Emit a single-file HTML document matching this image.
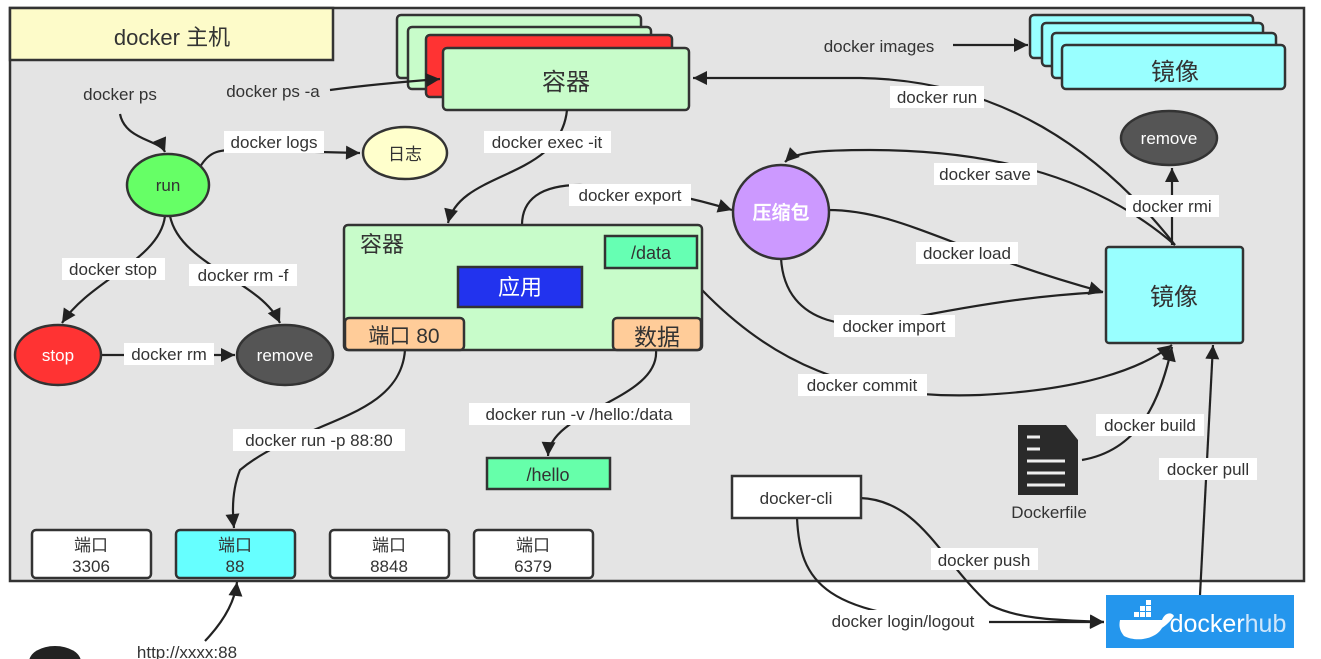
<!DOCTYPE html>
<html><head><meta charset="utf-8"><style>
html,body{margin:0;padding:0;background:#fff;}
svg{display:block;font-family:"Liberation Sans","Noto Sans CJK SC",sans-serif;}
.t{font-size:17px;fill:#333;}
.lb{fill:#fff;}
.ln{fill:none;stroke:#222;stroke-width:2.2;}
.bx{stroke:#333;stroke-width:2.5;}
</style></head><body>
<svg width="1321" height="659" viewBox="0 0 1321 659">
<defs>
<marker id="ar" viewBox="0 0 10 10" markerWidth="16" markerHeight="14" refX="10" refY="5" orient="auto" markerUnits="userSpaceOnUse"><path d="M0,0 L10,5 L0,10 Z" fill="#222"/></marker></defs>
<rect x="10" y="8" width="1294" height="573" fill="#e4e4e4" stroke="#333" stroke-width="2.5"/>
<rect x="10" y="8" width="323" height="52" fill="#fdfbc9" stroke="#333" stroke-width="2.5"/>
<text x="172" y="45" font-size="22" text-anchor="middle" fill="#333">docker 主机</text>

<rect class="bx" x="397" y="15" width="244" height="63" rx="4" fill="#c8fcca"/>
<rect class="bx" x="408" y="27" width="243" height="62" rx="4" fill="#c8fcca"/>
<rect class="bx" x="426" y="35" width="246" height="62" rx="4" fill="#ff3333"/>
<rect class="bx" x="443" y="48" width="246" height="62" rx="4" fill="#c8fcca"/>
<text x="566" y="90" font-size="24" text-anchor="middle" fill="#333">容器</text>

<rect class="bx" x="1030" y="15" width="223" height="43" rx="4" fill="#99ffff"/>
<rect class="bx" x="1042" y="23" width="221" height="43" rx="4" fill="#99ffff"/>
<rect class="bx" x="1052" y="33" width="224" height="45" rx="4" fill="#99ffff"/>
<rect class="bx" x="1062" y="45" width="223" height="44" rx="4" fill="#99ffff"/>
<text x="1175" y="80" font-size="24" text-anchor="middle" fill="#333">镜像</text>

<g class="ln">
<path d="M330,90 C360,86 400,82 440,79" marker-end="url(#ar)"/>
<path d="M953,45 L1028,45" marker-end="url(#ar)"/>
<path d="M1175,245 C1100,150 1000,80 860,78 L693,78" marker-end="url(#ar)"/>
<path d="M120,114 C125,140 160,140 165,152" marker-end="url(#ar)"/>
<path d="M200,167 C210,150 220,150 240,150 L360,153" marker-end="url(#ar)"/>
<path d="M165,216 C160,260 90,280 62,323" marker-end="url(#ar)"/>
<path d="M170,216 C180,265 260,280 280,323" marker-end="url(#ar)"/>
<path d="M100,355 L235,355" marker-end="url(#ar)"/>
<path d="M567,110 C560,180 460,170 448,223" marker-end="url(#ar)"/>
<path d="M522,225 C522,200 540,185 580,185 C650,187 700,200 732,210" marker-end="url(#ar)"/>
<path d="M1175,245 C1100,180 1000,150 870,150 C820,150 795,152 785,162" marker-end="url(#ar)"/>
<path d="M828,210 C900,210 950,250 1103,292" marker-end="url(#ar)"/>
<path d="M781,258 C785,330 860,330 900,320 C1000,300 1050,295 1103,292"/>
<path d="M1172,245 L1172,168" marker-end="url(#ar)"/>
<path d="M702,290 C770,360 850,400 980,395 C1080,390 1140,370 1172,345" marker-end="url(#ar)"/>
<path d="M1082,460 C1140,450 1160,400 1172,347" marker-end="url(#ar)"/>
<path d="M1200,595 L1213,345" marker-end="url(#ar)"/>
<path d="M495,290 C430,285 410,295 400,316" marker-end="url(#ar)"/>
<path d="M582,290 C640,285 650,300 655,316" marker-end="url(#ar)"/>
<path d="M651,268 L655,300"/>
<path d="M405,350 C400,420 300,420 240,470 C232,490 232,510 234,528" marker-end="url(#ar)"/>
<path d="M656,350 C660,400 550,410 548,456" marker-end="url(#ar)"/>
<path d="M860,498 C920,500 940,560 990,605 C1020,620 1060,620 1104,622" marker-end="url(#ar)"/>
<path d="M797,518 C800,580 820,620 990,622 L1104,622" marker-end="url(#ar)"/>
<path d="M205,641 C225,620 235,600 237,582" marker-end="url(#ar)"/>
</g>

<ellipse cx="1169" cy="138" rx="48" ry="27" fill="#555" class="bx"/>
<text x="1169" y="144" font-size="17" fill="#fff" text-anchor="middle">remove</text>
<ellipse cx="781" cy="212" rx="48" ry="47" fill="#cc99ff" class="bx"/>
<text x="781" y="219" font-size="19" font-weight="bold" fill="#fff" text-anchor="middle">压缩包</text>
<rect class="bx" x="1106" y="247" width="137" height="96" rx="3" fill="#99ffff"/>
<text x="1174" y="305" font-size="24" text-anchor="middle" fill="#333">镜像</text>

<rect class="bx" x="344" y="225" width="358" height="125" rx="4" fill="#c8fcca"/>
<text x="382" y="252" font-size="22" text-anchor="middle" fill="#333">容器</text>
<rect class="bx" x="605" y="236" width="92" height="32" fill="#66ffb3"/>
<text x="651" y="259" font-size="18" text-anchor="middle" fill="#333">/data</text>
<rect class="bx" x="458" y="267" width="124" height="40" fill="#2233ee"/>
<text x="520" y="295" font-size="22" text-anchor="middle" fill="#fff">应用</text>
<rect class="bx" x="345" y="318" width="119" height="32" rx="4" fill="#ffcc99"/>
<text x="404" y="343" font-size="21" text-anchor="middle" fill="#333">端口 80</text>
<rect class="bx" x="613" y="318" width="88" height="32" rx="4" fill="#ffcc99"/>
<text x="657" y="345" font-size="23" text-anchor="middle" fill="#333">数据</text>

<ellipse cx="168" cy="185" rx="41" ry="31" fill="#66ff66" class="bx"/>
<text x="168" y="191" font-size="17" text-anchor="middle" fill="#333">run</text>
<ellipse cx="405" cy="153" rx="42" ry="26" fill="#ffffcc" class="bx"/>
<text x="405" y="160" font-size="17" text-anchor="middle" fill="#333">日志</text>
<ellipse cx="58" cy="355" rx="43" ry="30" fill="#ff3333" class="bx"/>
<text x="58" y="361" font-size="17" text-anchor="middle" fill="#fff">stop</text>
<ellipse cx="285" cy="355" rx="48" ry="30" fill="#555" class="bx"/>
<text x="285" y="361" font-size="17" text-anchor="middle" fill="#fff">remove</text>

<rect class="bx" x="487" y="458" width="123" height="31" fill="#66ffaa"/>
<text x="548" y="481" font-size="18" text-anchor="middle" fill="#333">/hello</text>

<g font-size="17" text-anchor="middle" fill="#333">
<rect class="bx" x="32" y="530" width="119" height="48" rx="4" fill="#fff"/><text x="91" y="551">端口</text><text x="91" y="572">3306</text>
<rect class="bx" x="176" y="530" width="119" height="48" rx="4" fill="#66ffff"/><text x="235" y="551">端口</text><text x="235" y="572">88</text>
<rect class="bx" x="330" y="530" width="119" height="48" rx="4" fill="#fff"/><text x="389" y="551">端口</text><text x="389" y="572">8848</text>
<rect class="bx" x="474" y="530" width="119" height="48" rx="4" fill="#fff"/><text x="533" y="551">端口</text><text x="533" y="572">6379</text>
</g>

<rect class="bx" x="732" y="476" width="129" height="42" fill="#fff"/>
<text x="796" y="504" class="t" text-anchor="middle">docker-cli</text>

<path d="M1018,425 L1066,425 L1078,440 L1078,495 L1018,495 Z" fill="#2a2a2a"/>
<g stroke="#eee" stroke-width="3"><line x1="1027" y1="437" x2="1040" y2="437"/><line x1="1027" y1="449" x2="1040" y2="449"/><line x1="1027" y1="461" x2="1065" y2="461"/><line x1="1027" y1="473" x2="1065" y2="473"/><line x1="1027" y1="485" x2="1065" y2="485"/></g>
<text x="1049" y="518" class="t" text-anchor="middle">Dockerfile</text>

<rect x="1106" y="595" width="188" height="53" fill="#2496ed"/>
<path d="M1120,620 L1162,620 C1165,612 1172,612 1174,616 C1170,622 1166,625 1162,628 C1155,640 1135,642 1124,636 C1119,630 1119,625 1120,620 Z" fill="#fff"/>
<g fill="#fff"><rect x="1134" y="612" width="5" height="5"/><rect x="1140" y="612" width="5" height="5"/><rect x="1146" y="612" width="5" height="5"/><rect x="1140" y="606" width="5" height="5"/><rect x="1146" y="606" width="5" height="5"/><rect x="1146" y="600" width="5" height="5"/></g>
<text x="1228" y="632" font-size="25" fill="#fff" text-anchor="middle">docker<tspan fill="#cfe6fb">hub</tspan></text>

<g class="t">
<text x="120" y="100" text-anchor="middle">docker ps</text>
<text x="273" y="97" text-anchor="middle">docker ps -a</text>
<text x="879" y="52" text-anchor="middle">docker images</text>
<rect class="lb" x="890" y="86" width="94" height="22"/><text x="937" y="103" text-anchor="middle">docker run</text>
<rect class="lb" x="224" y="131" width="100" height="22"/><text x="274" y="148" text-anchor="middle">docker logs</text>
<rect class="lb" x="484" y="131" width="127" height="22"/><text x="547" y="148" text-anchor="middle">docker exec -it</text>
<rect class="lb" x="569" y="184" width="122" height="22"/><text x="630" y="201" text-anchor="middle">docker export</text>
<rect class="lb" x="934" y="163" width="103" height="22"/><text x="985" y="180" text-anchor="middle">docker save</text>
<rect class="lb" x="1126" y="195" width="93" height="22"/><text x="1172" y="212" text-anchor="middle">docker rmi</text>
<rect class="lb" x="916" y="242" width="102" height="22"/><text x="967" y="259" text-anchor="middle">docker load</text>
<rect class="lb" x="834" y="315" width="121" height="22"/><text x="894" y="332" text-anchor="middle">docker import</text>
<rect class="lb" x="798" y="374" width="129" height="22"/><text x="862" y="391" text-anchor="middle">docker commit</text>
<rect class="lb" x="62" y="258" width="103" height="22"/><text x="113" y="275" text-anchor="middle">docker stop</text>
<rect class="lb" x="189" y="264" width="108" height="22"/><text x="243" y="281" text-anchor="middle">docker rm -f</text>
<rect class="lb" x="124" y="343" width="90" height="22"/><text x="169" y="360" text-anchor="middle">docker rm</text>
<rect class="lb" x="469" y="403" width="221" height="22"/><text x="579" y="420" text-anchor="middle">docker run -v /hello:/data</text>
<rect class="lb" x="233" y="429" width="172" height="22"/><text x="319" y="446" text-anchor="middle">docker run -p 88:80</text>
<rect class="lb" x="1096" y="414" width="108" height="22"/><text x="1150" y="431" text-anchor="middle">docker build</text>
<rect class="lb" x="1159" y="458" width="98" height="22"/><text x="1208" y="475" text-anchor="middle">docker pull</text>
<rect class="lb" x="931" y="548" width="107" height="22"/><text x="984" y="566" text-anchor="middle">docker push</text>
<rect class="lb" x="817" y="610" width="172" height="22"/><text x="903" y="627" text-anchor="middle">docker login/logout</text>
<text x="187" y="658" text-anchor="middle">http://xxxx:88</text>
</g>
<ellipse cx="55" cy="662" rx="26" ry="16" fill="#222"/>
</svg>
</body></html>
